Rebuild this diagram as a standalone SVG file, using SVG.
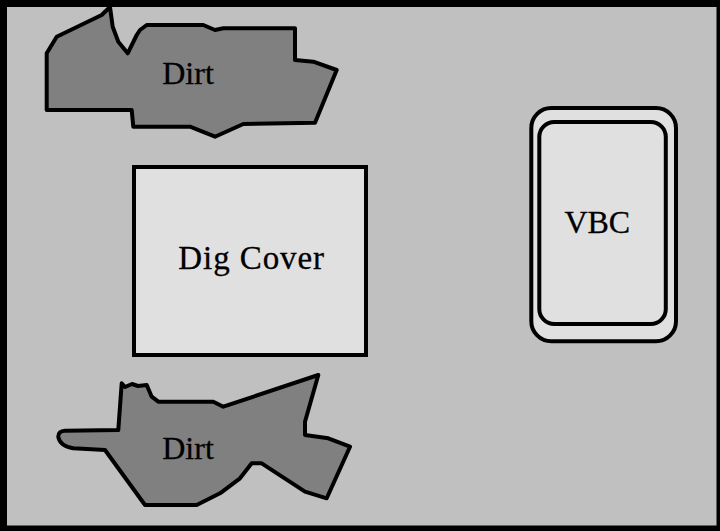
<svg xmlns="http://www.w3.org/2000/svg" width="720" height="531" viewBox="0 0 720 531">
<style>
.dirt{fill:#808080;stroke:#000;stroke-width:4;stroke-linejoin:round}
.box{fill:#e0e0e0;stroke:#000;stroke-width:4}
.lbl{font-family:"Liberation Serif","Times New Roman",serif;font-size:32px;fill:#000;stroke:#000;stroke-width:0.3;text-anchor:middle}
</style>
<rect x="0" y="0" width="720" height="531" fill="#000"/>
<rect x="7" y="7" width="709.5" height="518.5" fill="#c0c0c0"/>
<g id="dirt-top">
<path class="dirt" d="M110,7 L112.7,26.7 L118.3,41.7 L127.7,53.3 L136.7,35 L140,30 L146.7,25 L203.3,25 L215,30 L223.3,28.3 L295,28.3 L295,60 L313.3,61.7 L336.7,70 L315,122.7 L243.3,124 L215,136.7 L190,126.7 L133.3,126.7 L131.7,110 L46.7,110 L46.7,53.3 L56.7,36.7 L101.7,15 Z"/>
<text class="lbl" x="188" y="84.3">Dirt</text>
</g>
<g id="dirt-bottom">
<path class="dirt" d="M121.7,383.3 L125,387 L132,384 L138,386 L146.7,385 L151.7,396.7 L158.3,401.7 L213.3,401.7 L223.3,406.7 L318.3,375 L305,421.7 L305,435 L328.3,438.3 L350,446.7 L326.7,498.3 L305,491.7 L261.7,463.3 L251.7,463.3 L240,478.3 L220,493.3 L196.7,505 L145,505 L105,450 L73.3,448.3 Q60,446 58.3,437 Q58,431 65,430.7 L118.3,430 Z"/>
<text class="lbl" x="188" y="459.3">Dirt</text>
</g>
<g id="dig-cover">
<rect class="box" x="134" y="167" width="232" height="188"/>
<text class="lbl" x="251.2" y="269.3" style="font-size:33px" textLength="145.7">Dig Cover</text>
</g>
<g id="vbc">
<rect class="box" x="531.3" y="108" width="144.7" height="233.3" rx="20" ry="20"/>
<rect class="box" x="539.3" y="122" width="126.5" height="202" rx="15" ry="15"/>
<text class="lbl" x="597.3" y="232.7">VBC</text>
</g>
</svg>
